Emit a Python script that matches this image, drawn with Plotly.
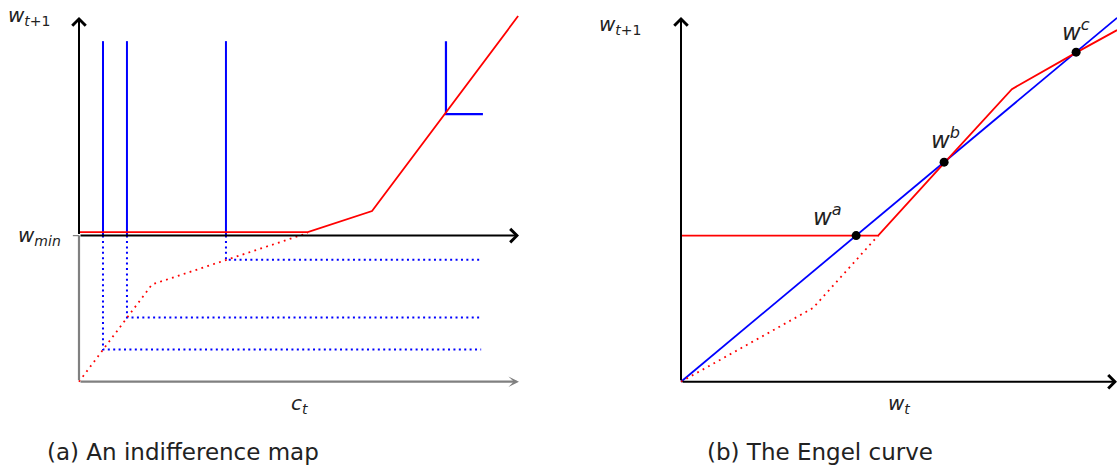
import plotly.graph_objects as go

# ---------------- data (abstract units) ----------------
W_MIN = 3.32

# Panel (a): indifference map
a_blue_x = [0.545, 1.09, 3.34]        # corners of the vertical indifference curves
a_blue_floor = [0.73, 1.46, 2.77]     # dotted levels below w_min
a_blue_top = 7.74
a_blue_right = 9.14
a_L_x = 8.34
a_L_y = 6.08
a_L_right = 9.18
a_red_x = [0.0, 5.20, 6.66, 9.98]
a_red_y = [3.40, 3.40, 3.88, 8.31]
a_dot_x = [0.0, 1.66, 5.20]
a_dot_y = [0.0, 2.21, 3.38]
a_x_max = 10.0
a_y_max = 8.29

# Panel (b): Engel curve
b_red_x = [0.0, 4.48, 6.00, 7.52, 9.00, 9.91]
b_red_y = [3.32, 3.32, 4.99, 6.65, 7.49, 7.99]
b_dot_x = [0.0, 3.0, 4.48]
b_dot_y = [0.0, 1.675, 3.32]
b_blue_x = [0.0, 9.91]
b_blue_y = [0.0, 8.27]
b_pts_x = [3.98, 5.98, 8.98]
b_pts_y = [3.32, 4.99, 7.49]
b_pts_lab = ["a", "b", "c"]
b_x_max = 9.91
b_y_max = 8.29

# ---------------- styles ----------------
W, H = 1117, 470
PX = 44.0
BLUE = "#0000ff"
RED = "#ff0000"
GRAY = "#808080"
TXT = "#222222"
FONT = "DejaVu Sans"

fig = go.Figure()


def line(xs, ys, color, width, dash="solid", ax="a"):
    xa, ya = ("x", "y") if ax == "a" else ("x2", "y2")
    fig.add_trace(go.Scatter(x=xs, y=ys, mode="lines", xaxis=xa, yaxis=ya,
                             line=dict(color=color, width=width, dash=dash),
                             hoverinfo="skip", showlegend=False))


BLUE_DOT = "2px,3.4px"
RED_DOT = "1.8px,4.4px"

# ---- panel (a) ----
for bx, fl in zip(a_blue_x, a_blue_floor):
    line([bx, bx], [W_MIN, a_blue_top], BLUE, 2)
    line([bx, bx, a_blue_right], [W_MIN, fl, fl], BLUE, 2, BLUE_DOT)
line([a_L_x, a_L_x, a_L_right], [a_blue_top, a_L_y, a_L_y], BLUE, 2.2)
line(a_dot_x, a_dot_y, RED, 1.8, RED_DOT)
line(a_red_x, a_red_y, RED, 1.8)
line([-0.14, 0], [W_MIN, W_MIN], GRAY, 1.2)

# ---- panel (b) ----
line(b_blue_x, b_blue_y, BLUE, 1.8, ax="b")
line(b_dot_x, b_dot_y, RED, 1.8, RED_DOT, ax="b")
line(b_red_x, b_red_y, RED, 1.8, ax="b")
fig.add_trace(go.Scatter(x=b_pts_x, y=b_pts_y, mode="markers", xaxis="x2", yaxis="y2",
                         marker=dict(color="black", size=9),
                         hoverinfo="skip", showlegend=False))

annotations = []


def arrow(x0, y0, x1, y1, color, width, head, size, ax="a"):
    xa, ya = ("x", "y") if ax == "a" else ("x2", "y2")
    annotations.append(dict(x=x1, y=y1, ax=x0, ay=y0, xref=xa, yref=ya,
                            axref=xa, ayref=ya, text="", showarrow=True,
                            arrowhead=head, arrowsize=size, arrowwidth=width,
                            arrowcolor=color, standoff=0, startstandoff=0))


# axes of panel (a)
arrow(0, 0, 0, W_MIN, GRAY, 2.2, 0, 1)
arrow(0, 0, a_x_max, 0, GRAY, 2.2, 3, 0.8)
arrow(0, W_MIN, 0, a_y_max, "black", 2, 4, 1.3)
arrow(0, W_MIN, a_x_max, W_MIN, "black", 2, 4, 1.3)
# axes of panel (b)
arrow(0, 0, 0, b_y_max, "black", 2, 4, 1.3, ax="b")
arrow(0, 0, b_x_max, 0, "black", 2, 4, 1.3, ax="b")


def label(x, y, text, ax="a", xanchor="center", yanchor="middle", xs=0, ys=0, size=19):
    xa, ya = ("x", "y") if ax == "a" else ("x2", "y2")
    annotations.append(dict(x=x, y=y, xref=xa, yref=ya, text=text, showarrow=False,
                            xanchor=xanchor, yanchor=yanchor, xshift=xs, yshift=ys,
                            font=dict(family=FONT, size=size, color=TXT)))


label(0, a_y_max, "<i>w</i><sub><i>t</i>+1</sub>", xanchor="right", xs=-26, ys=1, size=20)
label(0, W_MIN, "<i>w</i><sub><i>min</i></sub>", xanchor="right", xs=-16, ys=0, size=20)
label(a_x_max / 2, 0, "<i>c</i><sub><i>t</i></sub>", ys=-22, size=20)

label(0, b_y_max, "<i>w</i><sub><i>t</i>+1</sub>", ax="b", xanchor="right", xs=-37, ys=-8, size=20)
label(b_x_max / 2, 0, "<i>w</i><sub><i>t</i></sub>", ax="b", ys=-22, size=20)

offsets = {"a": (-29, 21), "b": (1, 24), "c": (0, 22)}
for px_, py_, lab in zip(b_pts_x, b_pts_y, b_pts_lab):
    dx, dy = offsets[lab]
    label(px_, py_, "<i>w</i><sup><i>%s</i></sup>" % lab, ax="b", xs=dx, ys=dy, size=23)

# captions
for cx, txt in [(183, "(a) An indifference map"), (820, "(b) The Engel curve")]:
    annotations.append(dict(x=cx / W, y=1 - 452 / H, xref="paper", yref="paper",
                            text=txt, showarrow=False, xanchor="center", yanchor="middle",
                            font=dict(family=FONT, size=23, color=TXT)))

# axis geometry: 44 px per unit
oa_x, ob_x, o_y = 79.0, 681.0, 381.7
a_dom = [0, 540 / W]
b_dom = [560 / W, 1.0]


def xr(dom, ox):
    return [(dom[0] * W - ox) / PX, (dom[1] * W - ox) / PX]


yrange = [(o_y - H) / PX, o_y / PX]
hidden = dict(visible=False, showgrid=False, zeroline=False, fixedrange=True)

fig.update_layout(
    width=W, height=H, autosize=False,
    margin=dict(l=0, r=0, t=0, b=0),
    paper_bgcolor="white", plot_bgcolor="white",
    xaxis=dict(domain=a_dom, range=xr(a_dom, oa_x), **hidden),
    yaxis=dict(domain=[0, 1], range=yrange, **hidden),
    xaxis2=dict(domain=b_dom, range=xr(b_dom, ob_x), anchor="y2", **hidden),
    yaxis2=dict(domain=[0, 1], range=yrange, anchor="x2", **hidden),
    annotations=annotations,
)

fig.write_html("out.html", config={"displayModeBar": False},
               post_script="document.body.style.margin='0';document.body.style.overflow='hidden';")
